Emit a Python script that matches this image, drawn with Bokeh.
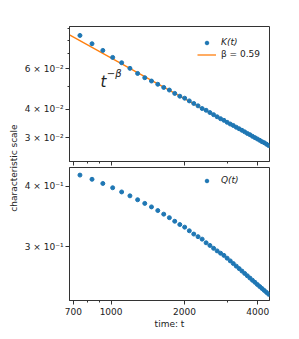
import math
from bokeh.plotting import figure
from bokeh.layouts import column, row
from bokeh.models import (Range1d, FixedTicker, Legend, LegendItem, Label)
from bokeh.embed import file_html
from bokeh.resources import INLINE

# ---- data ----
t = [745, 835, 925, 1015, 1105, 1195, 1285, 1375, 1465, 1555, 1645, 1735,
     1825, 1915, 2005, 2095, 2185, 2275, 2365, 2455, 2545, 2635, 2725, 2815,
     2905, 2995, 3085, 3175, 3265, 3355, 3445, 3535, 3625, 3715, 3805, 3895,
     3985, 4075, 4165, 4255, 4345, 4435]
K = [0.0838, 0.0771, 0.0721, 0.0672, 0.0637, 0.0602, 0.0572, 0.0548, 0.0530,
     0.0513, 0.0497, 0.0484, 0.0468, 0.0455, 0.0446, 0.0434, 0.0423, 0.0413,
     0.0402, 0.0395, 0.0386, 0.0378, 0.0370, 0.0363, 0.0357, 0.0350, 0.0344,
     0.0339, 0.0333, 0.0328, 0.0323, 0.0318, 0.0313, 0.0309, 0.0304, 0.0300,
     0.0296, 0.0292, 0.0288, 0.0285, 0.0281, 0.0277]
Q = [0.4214, 0.4131, 0.4050, 0.3969, 0.3891, 0.3820, 0.3750, 0.3686, 0.3625,
     0.3563, 0.3503, 0.3445, 0.3387, 0.3335, 0.3294, 0.3238, 0.3188, 0.3149,
     0.3112, 0.3059, 0.3021, 0.2980, 0.2944, 0.2912, 0.2882, 0.2844, 0.2808,
     0.2773, 0.2739, 0.2707, 0.2676, 0.2646, 0.2617, 0.2589, 0.2562, 0.2537,
     0.2511, 0.2487, 0.2464, 0.2441, 0.2419, 0.2397]
fit_t = [675, 4470]
fit_K = [0.0843, 0.0276]
beta_label = "β = 0.59"

x_ticks = [700, 1000, 2000, 4000]
x_minor = [800, 900, 3000]
x_labels = ["700", "1000", "2000", "4000"]
yk_ticks = [0.03, 0.04, 0.06]
yk_minor = [0.05, 0.07, 0.08, 0.09]
yk_labels = ["3 × 10⁻²", "4 × 10⁻²", "6 × 10⁻²"]
yq_ticks = [0.3, 0.4]
yq_labels = ["3 × 10⁻¹", "4 × 10⁻¹"]

BLUE = "#1f77b4"
ORANGE = "#ff7f0e"
FONT = "DejaVu Sans"
FS = "9px"
TXT = "#222222"

x_range = Range1d(675, 4470)


def style(p):
    p.xgrid.visible = False
    p.ygrid.visible = False
    p.outline_line_color = "#333333"
    p.outline_line_width = 1
    p.background_fill_color = "white"
    p.border_fill_color = "white"
    for ax in p.axis:
        ax.axis_line_color = "#333333"
        ax.major_tick_line_color = "#333333"
        ax.minor_tick_line_color = "#333333"
        ax.major_tick_out = 4
        ax.major_tick_in = 0
        ax.minor_tick_out = 2
        ax.minor_tick_in = 0
        ax.major_label_text_font = FONT
        ax.major_label_text_font_size = FS
        ax.major_label_text_color = TXT
        ax.axis_label_text_font = FONT
        ax.axis_label_text_font_size = FS
        ax.axis_label_text_font_style = "normal"
        ax.axis_label_text_color = TXT


def legend(item, loc, italic):
    return Legend(items=[item], location=loc, padding=0, margin=0, spacing=0,
                  glyph_width=19, glyph_height=9, label_height=12,
                  label_standoff=5, border_line_alpha=0,
                  background_fill_alpha=0, label_text_font=FONT,
                  label_text_font_size=FS, label_text_color=TXT,
                  label_text_font_style="italic" if italic else "normal")


# ---- top panel ----
p1 = figure(width=259, height=166, x_axis_type="log", y_axis_type="log",
            x_range=x_range, y_range=Range1d(0.0236, 0.0917),
            output_backend="svg", toolbar_location=None,
            min_border_left=49, min_border_right=10,
            min_border_top=26, min_border_bottom=5)
fl = p1.line(fit_t, fit_K, line_color=ORANGE, line_width=1.3)
sk = p1.scatter(t, K, size=4, fill_color=BLUE, line_color=BLUE)
style(p1)
p1.xaxis.ticker = FixedTicker(ticks=x_ticks, minor_ticks=x_minor)
p1.xaxis.major_label_overrides = {v: "" for v in x_ticks}
p1.xaxis.major_label_standoff = 0
p1.yaxis.ticker = FixedTicker(ticks=yk_ticks, minor_ticks=yk_minor)
p1.yaxis.major_label_overrides = dict(zip(yk_ticks, yk_labels))
p1.yaxis.major_label_standoff = 2

p1.add_layout(legend(LegendItem(label="K(t)", renderers=[sk]), (128, 113), True))
p1.add_layout(legend(LegendItem(label=beta_label, renderers=[fl]), (128, 101), False))

p1.add_layout(Label(x=904, y=0.0525, text="t", text_font=FONT,
                    text_font_size="15px", text_font_style="italic",
                    text_baseline="alphabetic", text_color=TXT))
p1.add_layout(Label(x=960, y=0.0569, text="−β", text_font=FONT,
                    text_font_size="10px", text_font_style="italic",
                    text_baseline="alphabetic", text_color=TXT))

# ---- bottom panel ----
p2 = figure(width=259, height=165, x_axis_type="log", y_axis_type="log",
            x_range=x_range, y_range=Range1d(0.2328, 0.4368),
            output_backend="svg", toolbar_location=None,
            min_border_left=49, min_border_right=10,
            min_border_top=1, min_border_bottom=28)
sq = p2.scatter(t, Q, size=4, fill_color=BLUE, line_color=BLUE)
style(p2)
p2.xaxis.ticker = FixedTicker(ticks=x_ticks, minor_ticks=x_minor)
p2.xaxis.major_label_overrides = dict(zip(x_ticks, x_labels))
p2.xaxis.major_label_standoff = 3
p2.xaxis.axis_label = "time: t"
p2.xaxis.axis_label_standoff = 1
p2.yaxis.ticker = FixedTicker(ticks=yq_ticks, minor_ticks=[])
p2.yaxis.major_label_overrides = dict(zip(yq_ticks, yq_labels))
p2.yaxis.major_label_standoff = 2

p2.add_layout(legend(LegendItem(label="Q(t)", renderers=[sq]), (128, 114), True))

# ---- shared y label ----
pl = figure(width=20, height=331, x_axis_type=None, y_axis_type=None,
            x_range=Range1d(0, 1), y_range=Range1d(0, 1),
            output_backend="svg", toolbar_location=None, min_border=0)
pl.outline_line_color = None
pl.xgrid.visible = False
pl.ygrid.visible = False
pl.add_layout(Label(x=13.5, y=163.5, x_units="screen", y_units="screen",
                    text="characteristic scale", angle=math.pi / 2,
                    text_align="center", text_baseline="middle",
                    text_font=FONT, text_font_size=FS, text_color=TXT))

layout = row(pl, column(p1, p2, spacing=0), spacing=0)
open("out.html", "w").write(file_html(layout, INLINE))
